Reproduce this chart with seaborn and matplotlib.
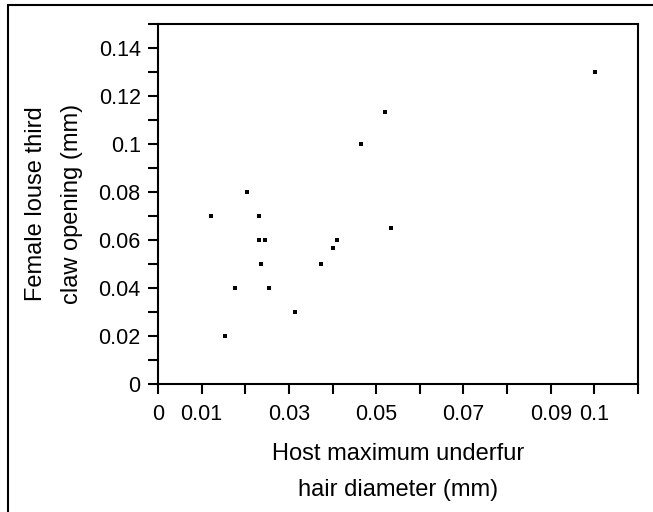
import numpy as np
import pandas as pd
import matplotlib
matplotlib.use("Agg")
import matplotlib.pyplot as plt
from matplotlib.patches import Rectangle
import seaborn as sns

# data
hair_diameter = [0.1002, 0.0521, 0.0466, 0.0204, 0.0122, 0.0232, 0.0232, 0.0245,
                 0.0411, 0.0401, 0.0534, 0.0236, 0.0374, 0.0177, 0.0255, 0.0314, 0.0154]
claw_opening = [0.130, 0.1133, 0.100, 0.080, 0.070, 0.070, 0.060, 0.060,
                0.060, 0.0567, 0.065, 0.050, 0.050, 0.040, 0.040, 0.030, 0.020]

x_ticks = [0, 0.01, 0.02, 0.03, 0.04, 0.05, 0.06, 0.07, 0.08, 0.09, 0.10, 0.11]
x_tick_labels = ["0", "0.01", "", "0.03", "", "0.05", "", "0.07", "", "0.09", "0.1", ""]
y_ticks = [0, 0.01, 0.02, 0.03, 0.04, 0.05, 0.06, 0.07, 0.08, 0.09, 0.10, 0.11, 0.12, 0.13, 0.14, 0.15]
y_tick_labels = ["0", "", "0.02", "", "0.04", "", "0.06", "", "0.08", "", "0.1", "", "0.12", "", "0.14", ""]

df = pd.DataFrame({"hair": hair_diameter, "claw": claw_opening})

sns.set_style("ticks")
plt.rcParams["font.family"] = ["Liberation Sans", "DejaVu Sans"]
plt.rcParams["text.color"] = "black"
plt.rcParams["axes.labelcolor"] = "black"
plt.rcParams["xtick.color"] = "black"
plt.rcParams["ytick.color"] = "black"

fig = plt.figure(figsize=(6.53, 5.12), dpi=100)
ax = fig.add_axes([158 / 653, 1 - 384 / 512, 480 / 653, 360 / 512])

sns.scatterplot(data=df, x="hair", y="claw", marker="s", color="black",
                s=9, linewidth=0, ax=ax)

ax.set_xlim(0, 0.11)
ax.set_ylim(0, 0.15)
ax.set_xticks(x_ticks)
ax.set_xticklabels(x_tick_labels)
ax.set_yticks(y_ticks)
ax.set_yticklabels(y_tick_labels)
ax.tick_params(direction="out", length=7.5, width=1.5, labelsize=15.5, color="black")
ax.tick_params(axis="x", pad=7)
ax.tick_params(axis="y", pad=5)
for sp in ax.spines.values():
    sp.set_linewidth(1.5)
    sp.set_color("black")

ax.set_xlabel("Host maximum underfur\nhair diameter (mm)", fontsize=17, linespacing=1.82, labelpad=13)
ax.set_ylabel("Female louse third\nclaw opening (mm)", fontsize=17, linespacing=1.82, labelpad=11)

# outer frame of the figure
fig.patches.append(Rectangle((8 / 653, -0.1), 1.2, 1.1 - 5 / 512, transform=fig.transFigure,
                             fill=False, linewidth=1.5, edgecolor="black"))

fig.savefig("out.png", dpi=100)
